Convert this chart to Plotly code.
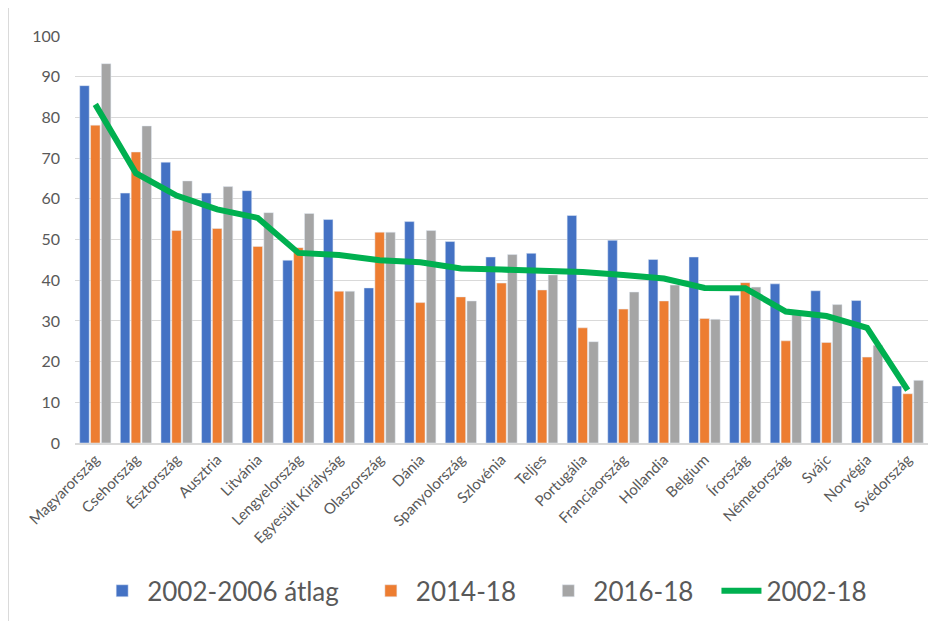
import plotly.graph_objects as go

# Data
countries = ["Magyarország", "Csehország", "Észtország", "Ausztria", "Litvánia",
             "Lengyelország", "Egyesült Királyság", "Olaszország", "Dánia",
             "Spanyolország", "Szlovénia", "Teljes", "Portugália", "Franciaország",
             "Hollandia", "Belgium", "Írország", "Németország", "Svájc",
             "Norvégia", "Svédország"]
avg_2002_2006 = [87.8, 61.4, 69.0, 61.4, 62.0, 44.9, 54.9, 38.1, 54.4, 49.5, 45.7,
                 46.6, 55.9, 49.8, 45.1, 45.7, 36.3, 39.1, 37.4, 35.0, 14.0]
v_2014_18 = [78.1, 71.5, 52.2, 52.7, 48.3, 48.0, 37.3, 51.8, 34.5, 35.9, 39.3,
             37.6, 28.3, 32.9, 34.9, 30.6, 39.4, 25.1, 24.7, 21.1, 12.1]
v_2016_18 = [93.2, 77.9, 64.4, 63.0, 56.6, 56.4, 37.3, 51.8, 52.2, 34.9, 46.3,
             41.3, 24.9, 37.1, 38.8, 30.4, 38.3, 31.5, 34.0, 24.0, 15.4]
v_2002_18 = [83.2, 66.3, 60.8, 57.4, 55.3, 46.7, 46.2, 44.9, 44.4, 42.9, 42.6,
             42.3, 42.0, 41.3, 40.4, 38.1, 38.0, 32.3, 31.2, 28.3, 13.0]

FONT = "Lato, 'Open Sans', sans-serif"
TEXT = "#595959"


def legend_at(x):
    # one legend box per series so the entries sit where the reference has them
    return dict(orientation="h", x=x, xanchor="left", y=-0.36, yanchor="middle",
                font=dict(size=26, color=TEXT), itemwidth=40,
                bgcolor="rgba(0,0,0,0)")


fig = go.Figure()
fig.add_trace(go.Bar(x=countries, y=avg_2002_2006, name="2002-2006 átlag",
                     marker_color="#4472c4", legend="legend", showlegend=True))
fig.add_trace(go.Bar(x=countries, y=v_2014_18, name="2014-18",
                     marker_color="#ed7d31", legend="legend2", showlegend=True))
fig.add_trace(go.Bar(x=countries, y=v_2016_18, name="2016-18",
                     marker_color="#a5a5a5", legend="legend3", showlegend=True))
fig.add_trace(go.Scatter(x=countries, y=v_2002_18, name="2002-18", mode="lines",
                         line=dict(color="#00b050", width=6), legend="legend4",
                         showlegend=True))

fig.update_layout(
    width=928, height=613,
    margin=dict(l=67, r=8, t=28, b=177),
    paper_bgcolor="white", plot_bgcolor="white",
    showlegend=True,
    barmode="group", bargap=0.2, bargroupgap=0.12,
    font=dict(family=FONT, color=TEXT),
    legend=legend_at(0.026),
    legend2=legend_at(0.341),
    legend3=legend_at(0.549),
    legend4=legend_at(0.752),
    xaxis=dict(tickangle=-45, tickfont=dict(size=15, color=TEXT),
               showline=True, linecolor="#d9d9d9", linewidth=2,
               ticks="", showgrid=False, automargin=False),
    yaxis=dict(range=[0, 100], dtick=10, tickfont=dict(size=16, color=TEXT),
               showgrid=True, gridcolor="#d9d9d9", gridwidth=1,
               zeroline=False, showline=False, ticks="", ticklabelstandoff=14,
               automargin=False),
    shapes=[dict(type="line", xref="paper", yref="paper", x0=-0.078, x1=-0.078,
                 y0=-0.45, y1=1.07, line=dict(color="#d9d9d9", width=1))],
)

fig.write_html("out.html")
